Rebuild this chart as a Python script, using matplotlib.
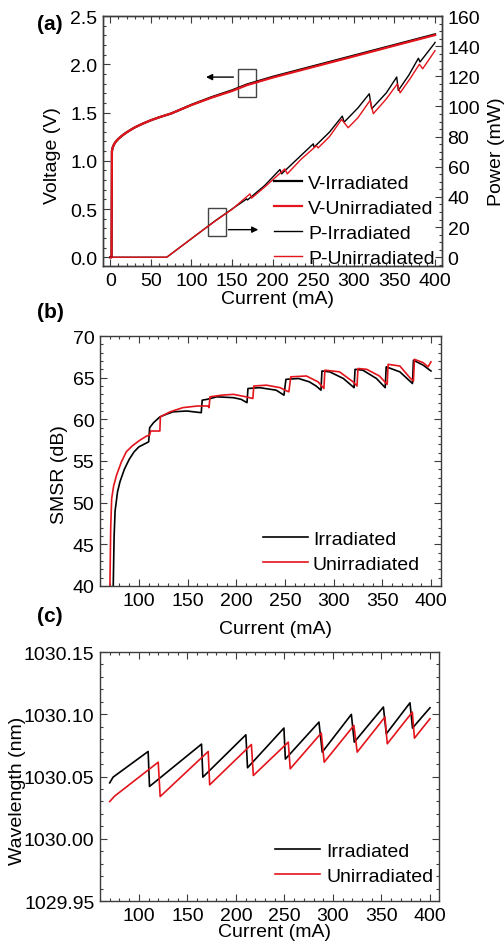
import matplotlib
matplotlib.use('Agg')
import matplotlib.pyplot as plt
from matplotlib.patches import Rectangle
from matplotlib.ticker import MultipleLocator, FormatStrFormatter

plt.rcParams['font.family'] = ['Liberation Sans', 'DejaVu Sans']
plt.rcParams['font.size'] = 14

BLACK = '#000000'
RED = '#e3141b'
SPINE = '#3c3c3c'

# (a) voltage and power vs current
v_current = [0, 1.5, 2, 3, 4, 6, 8, 10, 13, 16, 20, 25, 30, 40, 50, 60, 75, 100, 125, 150, 168, 200, 250, 300, 350, 400]
v_irr = [0, 0, 1.10, 1.14, 1.16, 1.19, 1.21, 1.228, 1.25, 1.27, 1.294, 1.32, 1.345, 1.385, 1.42, 1.45, 1.49,
         1.58, 1.66, 1.73, 1.79, 1.87, 1.98, 2.09, 2.20, 2.31]
v_unirr = [0, 0, 1.10, 1.14, 1.16, 1.19, 1.21, 1.228, 1.25, 1.27, 1.294, 1.32, 1.345, 1.385, 1.42, 1.45, 1.49,
           1.578, 1.655, 1.723, 1.783, 1.862, 1.972, 2.082, 2.193, 2.303]

p_irr_current = [0, 69.5, 90, 110.5, 130, 150, 168, 169, 190, 209, 211, 230, 250, 251, 270, 285.8, 288,
                 305, 319, 322, 340, 352.8, 354.8, 368, 379.5, 381.5, 399, 400]
p_irr = [0, 0, 8.3, 16.6, 24.5, 32, 38.7, 38.0, 47.5, 58.2, 55.3, 65, 75.2, 73, 83, 93.6, 89.6,
         99, 108.4, 98.5, 109, 119.5, 110.6, 121, 132, 129.5, 141.6, 142.5]
p_unirr_current = [0, 69.5, 90, 110.5, 130, 150, 172, 174, 190, 215, 218, 235, 254, 256, 270, 285, 293,
                   305, 320, 324, 340, 353.6, 357, 370, 380.7, 384.8, 400]
p_unirr = [0, 0, 8.3, 16.6, 24.3, 31.8, 42, 39.2, 46.5, 58.6, 55.3, 65, 74, 72.5, 80, 91.4, 85.9,
           92.5, 104, 95.2, 105, 115, 109, 119, 128, 125, 137]

# (b) SMSR
s_irr_current = [73.6, 74.5, 75.5, 78, 80.5, 85, 90, 95, 100, 105, 110, 111, 115, 121.6, 128, 135, 149, 164,
                 165, 170, 180, 197, 205, 211, 212, 224, 241, 249, 251, 264, 275, 282, 287, 288, 296, 310,
                 321, 322, 330, 344, 353, 354, 368, 381, 382, 392, 400]
s_irr = [40, 46, 49, 51.3, 52.5, 54, 55.2, 56.1, 56.7, 57.0, 57.3, 59.0, 59.6, 60.3, 60.6, 60.9, 61.0, 60.8,
         62.3, 62.4, 62.7, 62.6, 62.4, 62.0, 63.7, 63.8, 63.5, 62.9, 64.8, 64.9, 64.5, 64.0, 63.5, 65.8, 65.7, 64.9,
         63.8, 66.0, 65.9, 64.9, 63.8, 66.3, 65.7, 64.3, 67.1, 66.5, 65.8]
s_unirr_current = [70.2, 71, 72, 74, 77, 82, 87, 93, 101, 108, 111, 112, 121.5, 122, 132, 145, 160, 171,
                   172, 173, 185, 197, 210, 217, 218, 231, 245, 252, 254, 256, 272, 284, 290, 291, 306, 320,
                   324, 325, 334, 347, 355, 356, 368, 379, 382, 383, 392, 397, 400]
s_unirr = [40, 47, 50.5, 52, 53.3, 54.9, 56.1, 56.8, 57.5, 58.0, 58.1, 58.6, 58.6, 60.3, 60.9, 61.4, 61.6, 61.6,
           61.4, 62.7, 62.9, 63.0, 62.7, 62.5, 64.0, 64.1, 63.8, 63.4, 63.3, 65.1, 65.2, 64.5, 63.7, 65.9, 65.7, 64.5,
           64.0, 66.1, 66.0, 65.2, 64.2, 66.6, 66.4, 64.9, 64.6, 67.2, 66.8, 66.3, 66.9]

# (c) wavelength
w_irr_current = [70, 73.5, 109.6, 111, 164.6, 166, 210.3, 212, 249.5, 251, 285.6, 289, 319, 322,
                 352, 355, 379.4, 382, 400]
w_irr = [1030.0449, 1030.0495, 1030.0701, 1030.0420, 1030.0760, 1030.0495, 1030.0835, 1030.0570,
         1030.0889, 1030.0640, 1030.0937, 1030.0696, 1030.0999, 1030.0776, 1030.1058, 1030.0843,
         1030.1092, 1030.0889, 1030.1052]
w_unirr_current = [70, 75, 120, 122, 171.5, 173, 216, 218, 254, 256, 288, 291, 321.6, 325,
                   353.6, 356, 381.8, 384, 400]
w_unirr = [1030.0299, 1030.0342, 1030.0615, 1030.0339, 1030.0701, 1030.0433, 1030.0757, 1030.0508,
           1030.0776, 1030.0562, 1030.0849, 1030.0615, 1030.0910, 1030.0696, 1030.0977, 1030.0763,
           1030.1017, 1030.0808, 1030.0964]


def style_axes(ax, top=True, right=True):
  for s in ax.spines.values():
    s.set_color(SPINE)
    s.set_linewidth(1.0)
  ax.tick_params(which='both', direction='in', top=top, right=right, color=SPINE, width=0.8, pad=4)
  ax.tick_params(which='major', length=5)
  ax.tick_params(which='minor', length=2.5)


def legend_opts(handlelength, textpad):
  return dict(loc='upper left', frameon=False, borderpad=0, borderaxespad=0,
              handlelength=handlelength, handletextpad=textpad, labelspacing=0.38, fontsize=14)


fig = plt.figure(figsize=(5.04, 9.45), dpi=100)

# ---- (a)
ax1 = fig.add_axes([103/504, 1-267/945, 339/504, 250/945])
ax1b = ax1.twinx()
l1, = ax1.plot(v_current, v_irr, color=BLACK, lw=1.6, label='V-Irradiated')
l2, = ax1.plot(v_current, v_unirr, color=RED, lw=1.6, label='V-Unirradiated')
l3, = ax1b.plot(p_irr_current, p_irr, color=BLACK, lw=1.0, label='P-Irradiated')
l4, = ax1b.plot(p_unirr_current, p_unirr, color=RED, lw=1.0, label='P-Unirradiated')
ax1.set_xlim(-9, 408.6)
ax1.set_ylim(-0.09, 2.5)
ax1b.set_ylim(-5.8, 160)
ax1.xaxis.set_major_locator(MultipleLocator(50))
ax1.xaxis.set_minor_locator(MultipleLocator(10))
ax1.yaxis.set_major_locator(MultipleLocator(0.5))
ax1.yaxis.set_minor_locator(MultipleLocator(0.1))
ax1.yaxis.set_major_formatter(FormatStrFormatter('%.1f'))
ax1b.yaxis.set_major_locator(MultipleLocator(20))
ax1b.yaxis.set_minor_locator(MultipleLocator(5))
style_axes(ax1, top=True, right=False)
style_axes(ax1b, top=False, right=True)
ax1.set_xlabel('Current (mA)')
ax1.set_ylabel('Voltage (V)')
ax1b.set_ylabel('Power (mW)')
ax1.xaxis.label.set_va('center')
ax1.xaxis.set_label_coords(0.516, -0.132)
ax1.yaxis.label.set_va('center')
ax1.yaxis.set_label_coords(-0.150, 0.444)
ax1b.yaxis.label.set_va('center')
ax1b.yaxis.set_label_coords(1.162, 0.46)

ax1.add_patch(Rectangle((157.3, 1.663), 22.6, 0.293, fill=False, edgecolor='#444444', lw=1.0))
ax1.annotate('', xy=(117.9, 1.867), xytext=(151.6, 1.867),
             arrowprops=dict(arrowstyle='-|>', color='k', lw=1.0, mutation_scale=9, shrinkA=0, shrinkB=0))
ax1b.add_patch(Rectangle((120.7, 14.3), 21.8, 18.4, fill=False, edgecolor='#444444', lw=1.0))
ax1b.annotate('', xy=(182.3, 18.3), xytext=(145.4, 18.3),
              arrowprops=dict(arrowstyle='-|>', color='k', lw=1.0, mutation_scale=9, shrinkA=0, shrinkB=0))

ax1b.legend(handles=[l1, l2, l3, l4], bbox_to_anchor=(0.504, 0.366), **legend_opts(1.45, 0.3))

# ---- (b)
ax2 = fig.add_axes([100/504, 1-587/945, 341/504, 250/945])
ax2.plot(s_irr_current, s_irr, color=BLACK, lw=1.2, label='Irradiated')
ax2.plot(s_unirr_current, s_unirr, color=RED, lw=1.2, label='Unirradiated')
ax2.set_xlim(60, 410.3)
ax2.set_ylim(40, 70)
ax2.set_xticks([100, 150, 200, 250, 300, 350, 400])
ax2.xaxis.set_minor_locator(MultipleLocator(10))
ax2.yaxis.set_major_locator(MultipleLocator(5))
ax2.yaxis.set_minor_locator(MultipleLocator(1))
style_axes(ax2)
ax2.set_xlabel('Current (mA)')
ax2.set_ylabel('SMSR (dB)')
ax2.xaxis.label.set_va('center')
ax2.xaxis.set_label_coords(0.516, -0.172)
ax2.yaxis.label.set_va('center')
ax2.yaxis.set_label_coords(-0.12, 0.448)
ax2.legend(bbox_to_anchor=(0.478, 0.222), **legend_opts(2.3, 0.26))

# ---- (c)
ax3 = fig.add_axes([100/504, 1-902/945, 339/504, 249/945])
ax3.plot(w_irr_current, w_irr, color=BLACK, lw=1.2, label='Irradiated')
ax3.plot(w_unirr_current, w_unirr, color=RED, lw=1.2, label='Unirradiated')
ax3.set_xlim(60, 409.3)
ax3.set_ylim(1029.95, 1030.15)
ax3.set_xticks([100, 150, 200, 250, 300, 350, 400])
ax3.xaxis.set_minor_locator(MultipleLocator(10))
ax3.set_yticks([1029.95, 1030.00, 1030.05, 1030.10, 1030.15])
ax3.yaxis.set_minor_locator(MultipleLocator(0.01))
ax3.yaxis.set_major_formatter(FormatStrFormatter('%.2f'))
style_axes(ax3)
ax3.set_xlabel('Current (mA)')
ax3.set_ylabel('Wavelength (nm)')
ax3.xaxis.label.set_va('center')
ax3.xaxis.set_label_coords(0.516, -0.124)
ax3.yaxis.label.set_va('center')
ax3.yaxis.set_label_coords(-0.242, 0.446)
ax3.legend(bbox_to_anchor=(0.516, 0.235), **legend_opts(2.3, 0.36))

fig.text(50/504, 1-25/945, '(a)', ha='center', va='center', fontsize=15, fontweight='bold')
fig.text(50/504, 1-313/945, '(b)', ha='center', va='center', fontsize=15, fontweight='bold')
fig.text(50/504, 1-617/945, '(c)', ha='center', va='center', fontsize=15, fontweight='bold')

fig.savefig('out.png', dpi=100)
